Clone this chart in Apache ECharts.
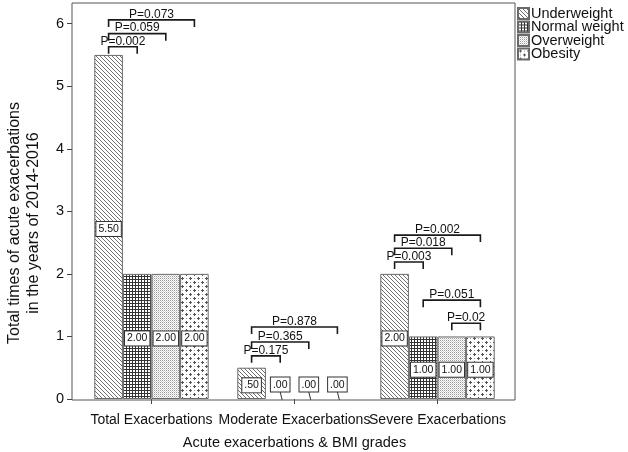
<!DOCTYPE html>
<html><head><meta charset="utf-8">
<script src="https://cdn.jsdelivr.net/npm/echarts@6/dist/echarts.min.js"></script>
<style>html,body{margin:0;padding:0;background:#fff;}#c{width:628px;height:452px;}</style>
</head><body><div id="c"></div>
<script>
// ---- data ----
const categories = ['Total Exacerbations', 'Moderate Exacerbations', 'Severe Exacerbations'];
const seriesNames = ['Underweight', 'Normal weight', 'Overweight', 'Obesity'];
const underweight = [5.50, 0.50, 2.00];
const normalWeight = [2.00, 0.00, 1.00];
const overweight = [2.00, 0.00, 1.00];
const obesity = [2.00, 0.00, 1.00];
const yTicks = [0, 1, 2, 3, 4, 5, 6];
// significance brackets: category, group from, group to, bracket level (y units), text
const pCat = [0, 0, 0, 1, 1, 1, 2, 2, 2, 2, 2];
const pFrom = [0, 0, 0, 0, 0, 0, 0, 0, 0, 1, 2];
const pTo = [1, 2, 3, 1, 2, 3, 1, 2, 3, 3, 3];
const pLevel = [5.63, 5.84, 6.06, 0.69, 0.91, 1.15, 2.19, 2.41, 2.62, 1.58, 1.21];
const pText = ['P=0.002', 'P=0.059', 'P=0.073', 'P=0.175', 'P=0.365', 'P=0.878', 'P=0.003', 'P=0.018', 'P=0.002', 'P=0.051', 'P=0.02'];

// ---- patterns ----
function tile(size, draw) {
  const c = document.createElement('canvas');
  c.width = size; c.height = size;
  const g = c.getContext('2d');
  g.fillStyle = '#fff'; g.fillRect(0, 0, size, size);
  draw(g);
  return { image: c, repeat: 'repeat' };
}
const patterns = [
  tile(4, g => { g.fillStyle = '#6e6e6e'; for (let i = 0; i < 4; i++) g.fillRect(i, i, 1, 1); }),
  tile(3, g => { g.fillStyle = '#333'; g.fillRect(0, 0, 3, 1); g.fillRect(0, 0, 1, 3); }),
  tile(2, g => { g.fillStyle = '#999'; g.fillRect(0, 0, 1, 1); g.fillStyle = '#d4d4d4'; g.fillRect(1, 1, 1, 1); }),
  tile(8, g => { g.fillStyle = '#555'; g.fillRect(1, 2, 3, 1); g.fillRect(2, 1, 1, 3); g.fillRect(5, 6, 3, 1); g.fillRect(6, 5, 1, 3); g.fillStyle = '#999'; g.fillRect(6, 2, 1, 1); g.fillRect(2, 6, 1, 1); })
];

const FONT = '"Liberation Sans", Arial, Helvetica, sans-serif';
const FS = 14;
function fmt(v) { let s = v.toFixed(2); if (s.startsWith('0')) s = s.slice(1); return s; }

const values = [underweight, normalWeight, overweight, obesity];
const barSeries = values.map((arr, i) => ({
  name: seriesNames[i],
  type: 'bar',
  barGap: '0%',
  barCategoryGap: '20%',
  data: arr.map(v => (v === 0
    ? { value: v, itemStyle: { borderColor: 'rgba(0,0,0,0)' }, label: { position: 'top', distance: 7, offset: [0, 0] } }
    : v)),
  itemStyle: { color: patterns[i], borderColor: '#6a6a6a', borderWidth: 1 },
  label: {
    show: true, position: 'inside', offset: [0, 2],
    formatter: p => fmt(p.value),
    fontFamily: FONT, fontSize: 10.5, color: '#111',
    backgroundColor: '#fff', borderColor: '#333', borderWidth: 1,
    padding: [2, 2, 1, 2]
  },
  emphasis: { disabled: true }
}));

// leader lines under labels of zero-height bars
const leaderData = [];
values.forEach((arr, i) => arr.forEach((v, j) => { if (v === 0) leaderData.push([j, 0, i]); }));
const leaderSeries = {
  type: 'custom', silent: true, z: 4, data: leaderData, encode: { x: 0, y: 1 },
  renderItem: (params, api) => {
    const pt = api.coord([api.value(0), api.value(1)]);
    const bw = api.size([1, 0])[0] * 0.8 / 4;
    const x = pt[0] + (api.value(2) - 1.5) * bw;
    return { type: 'line', shape: { x1: x, y1: pt[1] - 7, x2: x + 2, y2: pt[1] + 1 }, style: { stroke: '#333', lineWidth: 1 } };
  }
};

const bracketData = pCat.map((c, i) => [c, pFrom[i], pTo[i], pLevel[i], pText[i]]);
const bracketSeries = {
  type: 'custom',
  silent: true,
  z: 5,
  data: bracketData,
  encode: { x: 0, y: 3 },
  renderItem: (params, api) => {
    const cat = api.value(0), from = api.value(1), to = api.value(2), lvl = api.value(3);
    const txt = bracketData[params.dataIndex][4];
    const pt = api.coord([cat, lvl]);
    const band = api.size([1, 0])[0];
    const bw = band * 0.8 / 4;
    const x1 = pt[0] + (from - 1.5) * bw;
    const x2 = pt[0] + (to - 1.5) * bw;
    const y = pt[1];
    return {
      type: 'group',
      children: [
        { type: 'polyline', shape: { points: [[x1, y + 7], [x1, y], [x2, y], [x2, y + 7]] },
          style: { stroke: '#1a1a1a', lineWidth: 1.6, fill: null } },
        { type: 'text', style: { text: txt, x: (x1 + x2) / 2, y: y + 0.5, align: 'center', verticalAlign: 'bottom',
          font: '12px ' + FONT, fill: '#111' } }
      ]
    };
  }
};

const chart = echarts.init(document.getElementById('c'), null, { renderer: 'canvas' });
chart.setOption({
  animation: false,
  backgroundColor: '#fff',
  textStyle: { fontFamily: FONT },
  grid: { left: 80, right: 119, top: 3, bottom: 53, containLabel: false, outerBoundsMode: 'none' },
  legend: {
    orient: 'vertical', left: 517, top: 6, padding: 0,
    itemWidth: 11, itemHeight: 11, itemGap: -1.5,
    textStyle: { fontFamily: FONT, fontSize: 14.5, color: '#111', lineHeight: 13.5, padding: [0, 0, 0, -3] },
    data: seriesNames, icon: 'rect', selectedMode: false
  },
  xAxis: {
    type: 'category', data: categories,
    name: 'Acute exacerbations & BMI grades', nameLocation: 'middle', nameGap: 36,
    nameTextStyle: { fontFamily: FONT, fontSize: 14.5, color: '#111' },
    axisLine: { show: false },
    axisTick: { show: true, alignWithLabel: true, length: 5, lineStyle: { color: '#444' } },
    axisLabel: { fontFamily: FONT, fontSize: FS, color: '#111', margin: 14, interval: 0 }
  },
  yAxis: {
    type: 'value', min: 0, max: 6.33, interval: 1, offset: 8,
    axisLine: { show: false },
    axisTick: { show: true, length: 5, lineStyle: { color: '#444' }, customValues: yTicks },
    axisLabel: { fontFamily: FONT, fontSize: 14.5, color: '#111', margin: 8, customValues: yTicks },
    splitLine: { show: false }
  },
  graphic: [
    { type: 'rect', z: 10, shape: { x: 72, y: 3, width: 443, height: 397 }, style: { fill: null, stroke: '#555', lineWidth: 1 }, silent: true },
    { type: 'text', z: 10, x: 24, y: 223, rotation: Math.PI / 2,
      style: { text: 'Total times of acute exacerbations\nin the years of 2014-2016', align: 'center', verticalAlign: 'middle',
        font: '16px ' + FONT, fill: '#111', lineHeight: 19 } }
  ],
  series: barSeries.concat([leaderSeries, bracketSeries])
});
</script></body></html>
